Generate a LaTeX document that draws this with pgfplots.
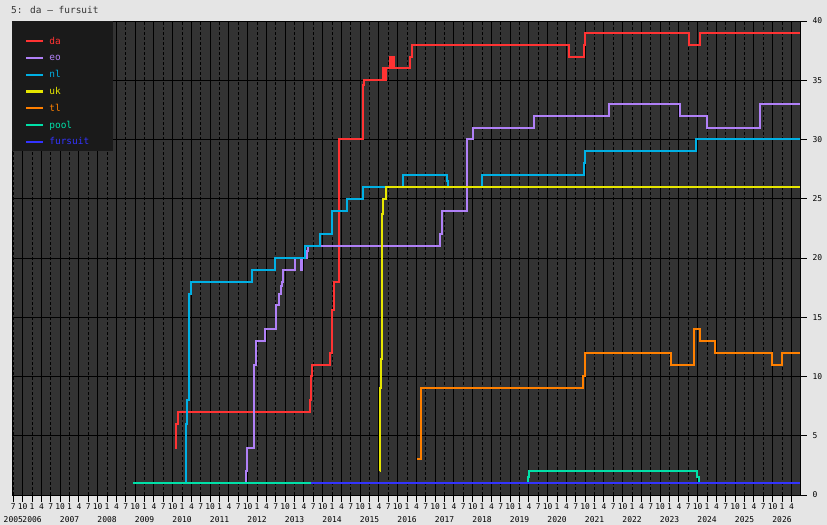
\documentclass[border=0pt]{standalone}
\usepackage{fontspec}
\setmainfont{DejaVu Sans Mono}
\usepackage{pgfplots}
\pgfplotsset{compat=1.18}

\definecolor{pagebg}{RGB}{229,229,229}
\definecolor{plotbg}{RGB}{51,51,51}
\definecolor{legbg}{RGB}{26,26,26}
\definecolor{cda}{RGB}{255,51,51}
\definecolor{ceo}{RGB}{176,128,247}
\definecolor{cnl}{RGB}{0,176,228}
\definecolor{cuk}{RGB}{230,230,0}
\definecolor{ctl}{RGB}{255,128,0}
\definecolor{cpool}{RGB}{0,224,168}
\definecolor{cfur}{RGB}{51,51,255}

\begin{document}
\begin{tikzpicture}
\fill[pagebg] (0,0) rectangle (827bp,525bp);
\useasboundingbox (0,0) rectangle (827bp,525bp);
\node[anchor=west, inner sep=0pt, font=\fontsize{9.5}{11}\selectfont, text=black!80] at (11bp,515bp) {5: da – fursuit};

\begin{axis}[
  at={(12bp,30bp)}, anchor=south west,
  scale only axis, width=788bp, height=474bp,
  xmin=2005.465, xmax=2026.479, ymin=0, ymax=40,
  axis background/.style={fill=plotbg},
  axis line style={black, line width=0.9bp},
  tick style={black, line width=0.9bp},
  tick align=outside, major tick length=7bp, minor tick length=0pt,
  xtick pos=bottom, ytick pos=right, yticklabel pos=right,
  xtick={2005.5,2005.75,...,2026.3},
  minor x tick num=2,
  % month of each quarter tick, with the year under January (and under the first tick)
  xticklabel={\pgfmathtruncatemacro\mm{mod(\ticknum+2,4)*3+1}\global\let\mm\mm
    \pgfmathtruncatemacro\yy{2005+floor((\ticknum+2)/4)}\global\let\yy\yy
    \ifnum\ticknum=0 \mm\\[5bp]\yy\else\ifnum\mm=1 \mm\\[5bp]\yy\else\mm\fi\fi},
  xticklabel style={align=center, anchor=north, inner sep=1bp, font=\fontsize{8}{9}\selectfont},
  ytick={0,5,...,40},
  yticklabel style={font=\fontsize{8}{9}\selectfont, xshift=2bp, /pgf/number format/assume math mode=true},
  xmajorgrids, xminorgrids, ymajorgrids,
  major x grid style={black, line width=0.9bp, dash pattern=on 3bp off 2bp},
  minor x grid style={black, line width=0.9bp, dash pattern=on 3bp off 2bp},
  major y grid style={black, line width=0.9bp},
  extra x ticks={2005.75,2006.25,...,2026.3},
  extra x tick labels={},
  extra x tick style={major tick length=0pt, grid=major, major x grid style={black, solid, line width=0.9bp}},
  every axis plot/.append style={const plot, line width=2bp},
  legend image code/.code={\draw[#1, line width=2.2bp] (0bp,3bp) -- (17bp,3bp);},
  legend style={at={(0,1)}, anchor=north west, fill=legbg, draw=none,
    inner xsep=13bp, inner ysep=3.5bp, row sep=5.8bp, column sep=4bp,
    font=\fontsize{9.5}{11}\selectfont,
    nodes={inner sep=1bp, text height=7bp, text depth=2bp},
    cells={anchor=base west}},
]

\addplot[cda] coordinates {
 (2009.81,4) (2009.85,6) (2009.89,7) (2013.41,8) (2013.44,10) (2013.47,11)
 (2013.94,12) (2014.01,15.6) (2014.05,18) (2014.18,30) (2014.82,34.6) (2014.85,35)
 (2015.35,36) (2015.36,35) (2015.37,36) (2015.38,35) (2015.39,36) (2015.40,35)
 (2015.41,36) (2015.42,35) (2015.43,36)
 (2015.55,37) (2015.56,36) (2015.57,37) (2015.58,36) (2015.59,37) (2015.60,36)
 (2015.61,37) (2015.62,36) (2015.63,37) (2015.65,36)
 (2016.08,37) (2016.14,38) (2020.33,37) (2020.72,38) (2020.75,39)
 (2023.53,38) (2023.81,39) (2026.479,39)
};
\addlegendentry[text height=18.5bp]{\textcolor{cda}{da}}

\addplot[ceo] coordinates {
 (2011.70,1) (2011.71,2) (2011.73,4) (2011.93,11) (2011.96,12.5) (2011.98,13)
 (2012.21,14) (2012.51,16) (2012.59,17) (2012.63,17.6) (2012.66,18) (2012.68,19)
 (2013.00,20) (2013.18,19) (2013.20,20) (2013.33,20.6) (2013.37,21)
 (2016.88,22) (2016.93,24) (2017.59,30) (2017.77,31) (2019.39,32) (2021.39,33)
 (2023.28,32) (2023.99,31) (2025.41,33) (2026.479,33)
};
\addlegendentry{\textcolor{ceo}{eo}}

\addplot[cnl] coordinates {
 (2010.09,1) (2010.10,6) (2010.14,8) (2010.19,17) (2010.23,18) (2011.87,19)
 (2012.49,20) (2013.28,21) (2013.68,22) (2014.01,24) (2014.39,25) (2014.83,26)
 (2015.89,27) (2017.06,26.5) (2017.09,26) (2017.99,27) (2020.72,28) (2020.75,29)
 (2023.71,30) (2026.479,30)
};
\addlegendentry{\textcolor{cnl}{nl}}

\addplot[cuk] coordinates {
 (2015.28,2) (2015.29,9) (2015.31,11.5) (2015.33,23.7) (2015.35,25) (2015.44,26)
 (2026.479,26)
};
\addlegendentry{\textcolor{cuk}{uk}}

\addplot[ctl] coordinates {
 (2016.27,3) (2016.36,9) (2020.70,10) (2020.74,12) (2023.03,11) (2023.65,14)
 (2023.81,13) (2024.21,12) (2025.72,11) (2026.01,12) (2026.479,12)
};
\addlegendentry{\textcolor{ctl}{tl}}

\addplot[cpool] coordinates {
 (2008.70,1) (2019.22,1.5) (2019.24,2) (2023.72,1.5) (2023.78,1) (2026.479,1)
};
\addlegendentry{\textcolor{cpool}{pool}}

\addplot[cfur] coordinates {
 (2013.44,1) (2026.479,1)
};
\addlegendentry{\makebox[50bp][l]{\textcolor{cfur}{fursuit}}}

\end{axis}
\end{tikzpicture}
\end{document}
